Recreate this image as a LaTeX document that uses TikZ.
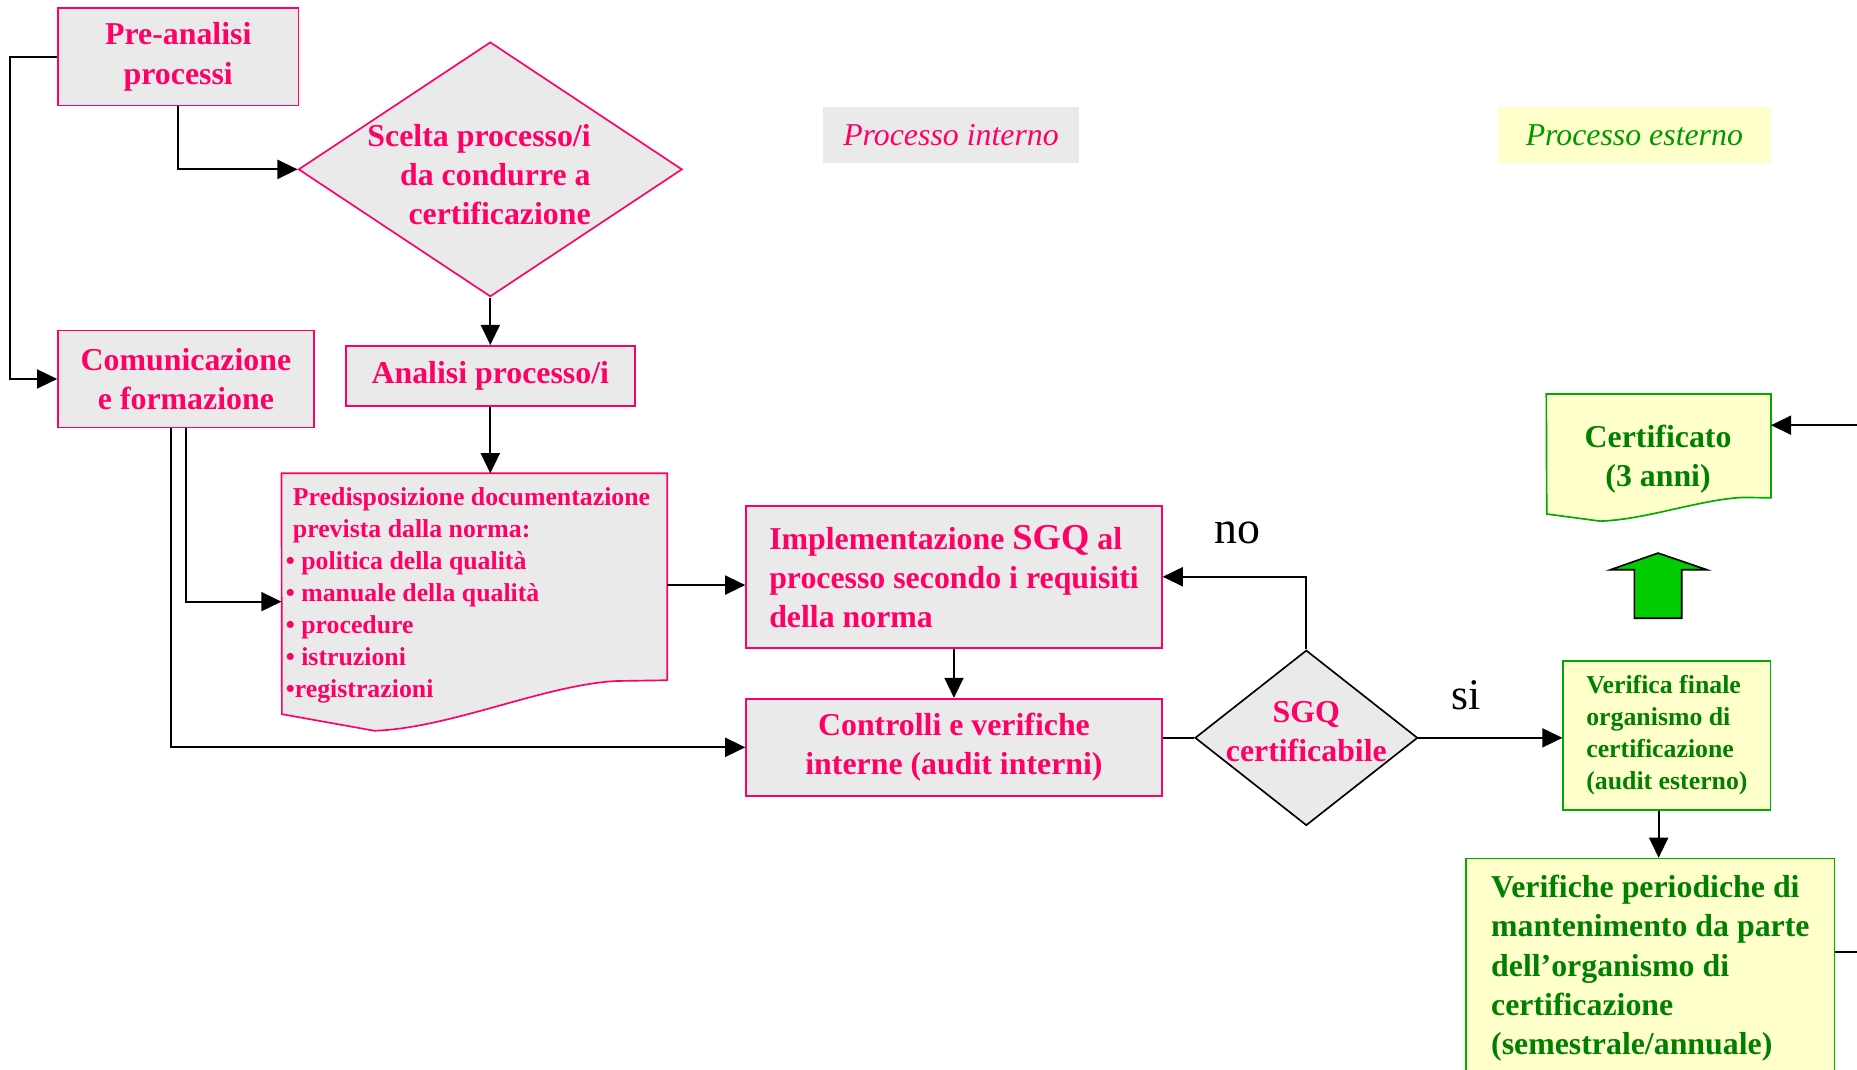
\documentclass[tikz,border=0pt]{standalone}
\usepackage{fontspec}
\setmainfont{Liberation Serif}
\usetikzlibrary{arrows.meta,shapes.geometric}
\definecolor{rosa}{RGB}{255,0,102}
\definecolor{grigio}{RGB}{234,234,234}
\definecolor{giallo}{RGB}{255,255,204}
\definecolor{verdescuro}{RGB}{0,128,0}
\definecolor{verdelegenda}{RGB}{0,153,0}
\definecolor{verdebordo}{RGB}{0,170,0}
\definecolor{verdefreccia}{RGB}{0,204,0}
\newcommand{\grande}{\fontsize{15.3}{18.8}\selectfont\bfseries}
\newcommand{\piccolo}{\fontsize{12.4}{15.4}\selectfont\bfseries}
\begin{document}
\begin{tikzpicture}[
    interno/.style={rectangle, draw=rosa, line width=0.8pt, fill=grigio, text=rosa, font=\grande, align=center, inner sep=0pt},
    esterno/.style={rectangle, draw=verdebordo, line width=0.8pt, fill=giallo, text=verdescuro, font=\grande, align=left, inner sep=0pt},
    decisione/.style={diamond, fill=grigio, line width=0.8pt, inner sep=0pt},
    scritta/.style={text=rosa, font=\grande, inner sep=0pt},
    legenda/.style={rectangle, inner sep=0pt, minimum height=0.96cm, font=\itshape\fontsize{15.3}{18}\selectfont},
    risposta/.style={inner sep=0pt, font=\fontsize{21}{25}\selectfont},
    freccia/.style={line width=1pt, -{Triangle[length=0.34cm,width=0.32cm]}},
    linea/.style={line width=1pt}
  ]
  \useasboundingbox (0,0) rectangle (31.36,-18.06);

  \node[interno, minimum width=4.06cm, minimum height=1.64cm] (pre) at (3.01,-0.96) {Pre-analisi\\processi};
  \node[decisione, draw=rosa, minimum width=6.48cm, minimum height=4.30cm] (scelta) at (8.28,-2.86) {};
  \node[scritta, align=right] at (8.09,-2.95) {Scelta processo/i\\da condurre a\\certificazione};
  \node[interno, minimum width=4.88cm, minimum height=1.02cm] (analisi) at (8.28,-6.35) {Analisi processo/i};
  \node[interno, minimum width=4.32cm, minimum height=1.64cm] (comu) at (3.14,-6.40) {Comunicazione\\e formazione};

  \node[minimum width=6.5cm, minimum height=3.48cm, inner sep=0pt] (predisp) at (8.01,-9.74) {};
  \filldraw[draw=rosa, fill=grigio, line width=0.8pt] (predisp.north west) -- (predisp.north east) -- (predisp.south east)
    -- (10.42,-11.50) .. controls (9.2,-11.56) and (7.6,-12.30) .. (6.32,-12.34) -- (4.76,-12.06) -- cycle;
  \node[scritta, font=\piccolo, align=left, anchor=west] at (4.82,-10.06)
    {\hspace*{0.12cm}Predisposizione documentazione\\\hspace*{0.12cm}prevista dalla norma:\\• politica della qualità\\• manuale della qualità\\• procedure\\• istruzioni\\•registrazioni};

  \node[interno, align=left, minimum width=7.02cm, minimum height=2.40cm] (impl) at (16.11,-9.74)
    {Implementazione {\fontsize{17.5}{18.8}\selectfont SGQ} al\\processo secondo i requisiti\\della norma};
  \node[interno, minimum width=7.02cm, minimum height=1.64cm] (ctrl) at (16.11,-12.62) {Controlli e verifiche\\interne (audit interni)};
  \node[decisione, draw=black, minimum width=3.76cm, minimum height=2.96cm] (sgq) at (22.06,-12.46) {};
  \node[scritta, align=center] at (22.06,-12.35) {SGQ\\certificabile};
  \node[risposta, font=\fontsize{22}{26}\selectfont] (no) at (20.9,-9.0) {no};
  \node[risposta] (si) at (24.76,-11.74) {si};

  \node[legenda, fill=grigio, text=rosa, minimum width=4.32cm] (leginterno) at (16.06,-2.28) {Processo interno};
  \node[legenda, fill=giallo, text=verdelegenda, minimum width=4.6cm] (legesterno) at (27.6,-2.28) {Processo esterno};

  \node[esterno, font=\piccolo, minimum width=3.5cm, minimum height=2.52cm] (verfin) at (28.15,-12.42)
    {Verifica finale\\organismo di\\certificazione\\(audit esterno)};
  \node[esterno, minimum width=6.22cm, minimum height=3.7cm] (verper) at (27.87,-16.35)
    {Verifiche periodiche di\\mantenimento da parte\\dell’organismo di\\certificazione\\(semestrale/annuale)};

  \node[minimum width=3.78cm, minimum height=1.74cm, inner sep=0pt] (cert) at (28.01,-7.53) {};
  \filldraw[draw=verdebordo, fill=giallo, line width=0.8pt] (cert.north west) -- (cert.north east) -- (cert.south east)
    -- (29.44,-8.40) .. controls (28.72,-8.43) and (27.78,-8.78) .. (27.02,-8.80) -- (26.12,-8.68) -- cycle;
  \node[text=verdescuro, font=\grande, align=center, inner sep=0pt] at (28.0,-7.76) {Certificato\\(3 anni)};

  \filldraw[fill=verdefreccia, line width=0.8pt] (27.6,-10.44) -- (27.6,-9.62) -- (27.2,-9.62) -- (28.0,-9.34)
    -- (28.82,-9.62) -- (28.4,-9.62) -- (28.4,-10.44) -- cycle;

  \draw[freccia] (pre.west) -- ++(-0.8,0) |- (comu.west);
  \draw[freccia] (pre.south) |- (scelta.west);
  \draw[freccia] (scelta.south) -- (analisi.north);
  \draw[freccia] (analisi.south) -- (analisi.south |- predisp.north);
  \draw[freccia] (comu.south) |- ([yshift=-0.42cm]predisp.west);
  \draw[freccia] ([xshift=-0.26cm]comu.south) |- (ctrl.west);
  \draw[freccia] ([yshift=-0.14cm]predisp.east) -- ([yshift=-0.14cm]predisp.east -| impl.west);
  \draw[freccia] (impl.south) -- (ctrl.north);
  \draw[linea] (sgq.west) -- (sgq.west -| ctrl.east);
  \draw[freccia] (sgq.north) |- (impl.east);
  \draw[freccia] (sgq.east) -- (sgq.east -| verfin.west);
  \draw[freccia] ([xshift=-0.14cm]verfin.south) -- ([xshift=-0.14cm]verfin.south |- verper.north);
  \draw[freccia] ([yshift=0.27cm]verper.east) -- ++(1.5,0) |- ([yshift=0.35cm]cert.east);
\end{tikzpicture}
\end{document}
